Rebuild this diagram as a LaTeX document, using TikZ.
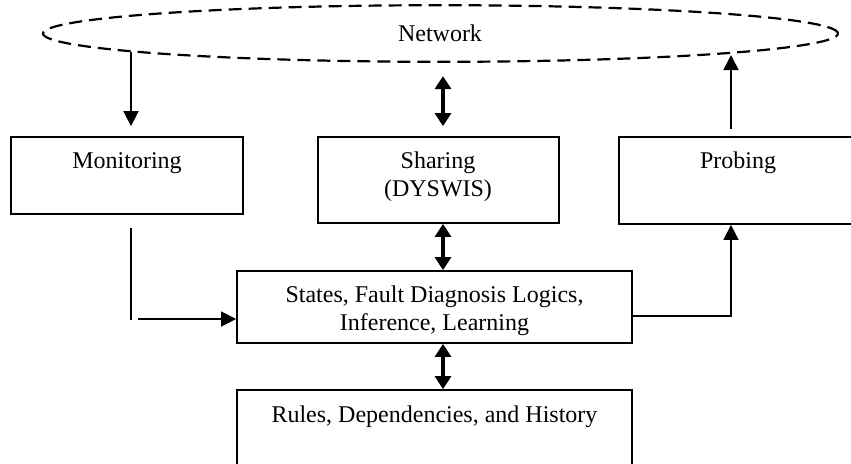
\documentclass[tikz,border=0pt]{standalone}
\usepackage{fontspec}
\setmainfont{Liberation Serif}
\usepackage{tikz}
\usetikzlibrary{arrows.meta,positioning,shapes.geometric,calc}

\begin{document}
\begin{tikzpicture}[x=0.5pt,y=-0.5pt,
  box/.style={draw,line width=0.9pt,inner sep=0pt},
  txt/.style={align=center,font=\fontsize{12pt}{13.8pt}\selectfont,inner sep=0pt},
  conn/.style={line width=0.8pt},
  oneway/.style={conn,-{Triangle[length=7.5pt,width=7.5pt]}},
  twoway/.style={line width=1.7pt,{Triangle[length=6.5pt,width=8pt]}-{Triangle[length=6.5pt,width=8pt]}}]
\useasboundingbox (0,0) rectangle (851,463);
% network cloud
\node[ellipse,draw,dash pattern=on 6.5pt off 3.5pt,line width=1.1pt,minimum width=397.5pt,minimum height=28.3pt,inner sep=0pt,outer sep=0pt] (net) at (440.5,33.5) {};
\node[txt] (nettxt) at (440,33) {Network};
% boxes
\node[box,minimum width=116pt,minimum height=38.5pt] (mon) at (127,175.5) {};
\node[box,minimum width=120.5pt,minimum height=43pt] (share) at (438.5,180) {};
\node[box,minimum width=119pt,minimum height=43.5pt] (probe) at (738,180.5) {};
\node[box,minimum width=197.5pt,minimum height=36pt] (state) at (434.5,307) {};
\node[box,minimum width=197.5pt,minimum height=45pt] (rules) at (434.5,435) {};
% labels
\node[txt] (montxt) at (127,163) {Monitoring};
\node[txt] (sharetxt) at (438,177) {Sharing\\(DYSWIS)};
\node[txt] (probetxt) at (738,163) {Probing};
\node[txt] (statetxt) at (434.5,311) {States, Fault Diagnosis Logics,\\Inference, Learning};
\node[txt] (rulestxt) at (434.5,417) {Rules, Dependencies, and History};
% connectors
\coordinate (netL) at (131,52);
\coordinate (netR) at (731,55);
\coordinate (mc) at (131,320);
\draw[oneway] (netL) -- ([xshift=2pt,yshift=5pt]mon.north);
\draw[oneway] ([xshift=-3.5pt,yshift=3.5pt]probe.north) -- (netR);
\draw[twoway] ([xshift=2.25pt,yshift=5pt]share.north) -- ([xshift=2.25pt,yshift=30pt]share.north);
\draw[twoway] ([xshift=2.25pt]share.south) -- ([xshift=2.25pt]share.south |- state.north);
\draw[twoway] ([xshift=4.25pt]state.south) -- ([xshift=4.25pt]state.south |- rules.north);
\draw[conn] ([xshift=2pt,yshift=-6.5pt]mon.south) -- (mc);
\draw[oneway] ([xshift=3.5pt,yshift=0.5pt]mc) -- ([yshift=-6pt]state.west);
\draw[oneway] ([yshift=-4.5pt]state.east) -| ([xshift=-3.5pt]probe.south);
\end{tikzpicture}
\end{document}
